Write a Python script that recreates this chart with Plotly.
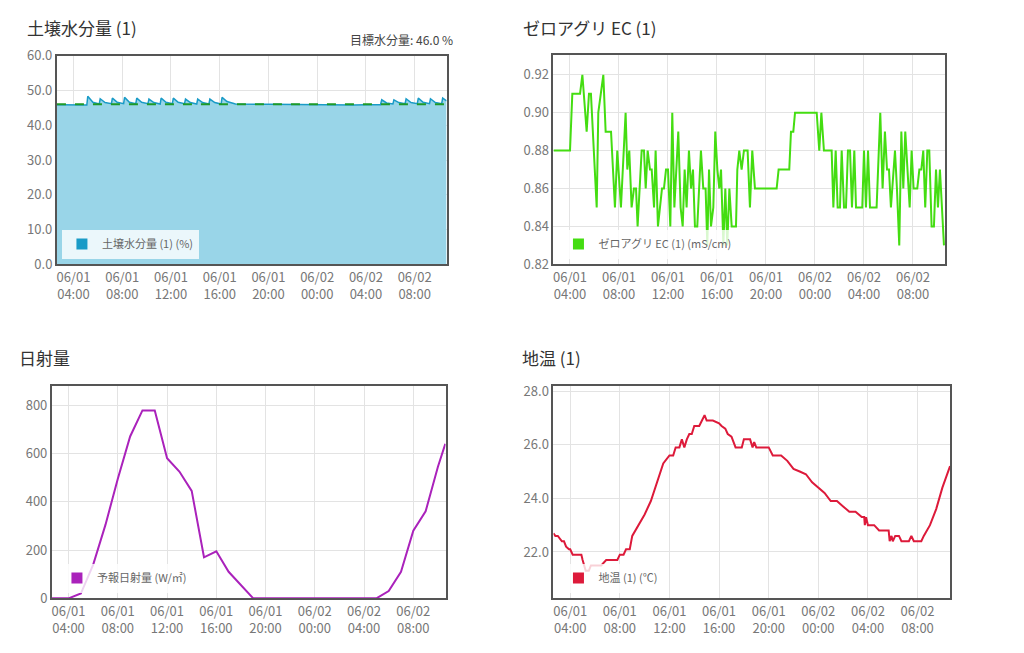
import plotly.graph_objects as go
from datetime import datetime, timedelta

BASE = datetime(2024, 6, 1, 0, 0)
def T(h): return BASE + timedelta(hours=h)

X_START, X_END = 2.65, 34.62
tick_hours = [4, 8, 12, 16, 20, 24, 28, 32]
tick_labels = ["06/01<br>04:00", "06/01<br>08:00", "06/01<br>12:00", "06/01<br>16:00",
               "06/01<br>20:00", "06/02<br>00:00", "06/02<br>04:00", "06/02<br>08:00"]

# Soil moisture (hours since 06/01 00:00, %)
sm_t = [2.65, 4.5, 5.1, 5.18, 5.6, 6.12, 6.2, 6.6, 7.12, 7.2, 7.6, 8.12, 8.2, 8.6, 9.12, 9.2, 9.6,
        10.12, 10.2, 10.6, 11.12, 11.2, 11.6, 12.12, 12.2, 12.6, 13.12, 13.2, 13.6, 14.12, 14.2, 14.6,
        15.12, 15.2, 15.6, 16.12, 16.2, 16.6, 17.3, 20, 22, 24, 26, 27, 28, 29.2, 29.3, 29.7, 30.22, 30.3,
        30.7, 31.22, 31.3, 31.7, 32.22, 32.3, 32.7, 33.22, 33.3, 33.7, 34.22, 34.3, 34.62]
sm_v = [45.9, 45.9, 45.8, 48.3, 46.6, 46.1, 47.6, 46.5, 46.2, 47.8, 46.6, 46.2, 48.0, 46.6, 46.2, 47.8, 46.6,
        46.2, 47.5, 46.5, 46.1, 47.8, 46.6, 46.2, 47.8, 46.6, 46.2, 47.5, 46.5, 46.1, 47.5, 46.5,
        46.1, 47.5, 46.5, 46.1, 48.0, 46.8, 46.1, 46.0, 45.9, 45.8, 45.7, 45.8, 45.9, 45.9, 47.3, 46.4, 46.1, 47.3,
        46.5, 46.2, 47.6, 46.5, 46.2, 47.8, 46.6, 46.2, 47.6, 46.5, 46.2, 47.8, 47.0]
target_moisture = 46.0

# EC (mS/cm)
ec_t = [2.65, 4.0, 4.19, 4.82, 5.01, 5.36, 5.55, 5.71, 6.18, 6.31, 6.72, 6.91, 7.35, 7.67, 7.86, 8.16, 8.54,
        8.68, 8.84, 9.03, 9.22, 9.39, 9.52, 9.85, 10.04, 10.18, 10.34, 10.53, 10.67, 10.86, 10.99, 11.18,
        11.51, 11.67, 11.84, 12.0, 12.19, 12.35, 12.52, 12.84, 13.03, 13.2, 13.36, 13.52, 13.71, 13.88, 14.04,
        14.2, 14.39, 14.69, 14.88, 15.07, 15.21, 15.35, 15.51, 15.7, 15.86, 16.03, 16.19, 16.33, 16.52, 16.68,
        16.84, 17.01, 17.2, 17.55, 17.66, 17.82, 18.01, 18.2, 18.5, 18.69, 18.88, 19.1, 20.87, 21.03, 21.9,
        22.04, 22.23, 22.37, 24.14, 24.35, 24.52, 24.73, 25.36, 25.5, 25.69, 25.85, 26.04, 26.18, 26.37, 26.53,
        26.69, 26.86, 27.02, 27.21, 27.35, 27.86, 28.0, 28.16, 28.33, 28.49, 29.03, 29.33, 29.52, 29.71, 29.88,
        30.04, 30.2, 30.53, 30.69, 30.88, 31.05, 31.21, 31.37, 31.56, 31.73, 31.89, 32.05, 32.35, 32.52, 32.68,
        32.84, 33.0, 33.17, 33.33, 33.52, 33.71, 33.88, 34.04, 34.2, 34.53]
ec_v = [.88, .88, .91, .91, .92, .89, .91, .91, .85, .90, .92, .89, .89, .85, .88, .85, .90,
        .87, .88, .85, .86, .86, .84, .88, .88, .86, .88, .87, .87, .85, .88, .84,
        .86, .86, .87, .87, .84, .90, .85, .89, .85, .84, .87, .85, .88, .86, .87,
        .84, .84, .88, .86, .86, .83, .87, .84, .85, .89, .87, .86, .87, .83, .86,
        .83, .86, .84, .84, .87, .88, .87, .88, .88, .85, .88, .86, .86, .87, .87,
        .89, .89, .90, .90, .88, .90, .88, .88, .85, .88, .85, .85, .88, .85, .85,
        .88, .88, .85, .88, .85, .85, .88, .85, .88, .85, .85, .90, .86, .89, .87,
        .87, .85, .88, .86, .83, .89, .86, .89, .87, .85, .88, .86, .86, .87, .87,
        .88, .85, .88, .88, .84, .84, .87, .85, .87, .83]

# Forecast solar radiation (W/m2)
sr_t = [2.6, 3, 4, 5, 6, 7, 8, 9, 10, 11, 12, 13, 14, 15, 16, 17, 18, 19, 20, 22, 24, 26, 28, 29, 30, 31, 32, 33, 34, 34.6]
sr_v = [0, 0, 0, 20, 140, 305, 495, 670, 778, 778, 580, 525, 445, 170, 195, 110, 55, 0, 0, 0, 0, 0, 0, 0, 30, 110, 280, 360, 545, 640]

# Soil temperature (°C)
st_t = [2.65, 2.8, 3.0, 3.33, 3.5, 3.67, 3.9, 4.0, 4.2, 4.33, 4.9, 5.0, 5.25, 5.5, 5.67, 6.0, 6.5, 6.9, 7.0, 7.8,
        8.0, 8.3, 8.5, 8.8, 9.0, 9.5, 10.0, 10.5, 11.0, 11.5, 12.0, 12.3, 12.5, 12.8, 13.0, 13.2, 13.4,
        13.6, 13.8, 14.0, 14.4, 14.6, 14.83, 15.0, 15.5, 16.0, 16.2, 16.5, 16.7, 17.0, 17.33, 17.83, 18.0,
        18.5, 18.7, 18.83, 19.0, 19.33, 20.0, 20.33, 21.0, 21.5, 22.0, 22.5, 23.0, 23.5, 24.0, 24.5, 25.0,
        25.5, 26.0, 26.5, 27.0, 27.5, 27.7, 27.75, 27.85, 28.0, 28.5, 28.9, 29.0, 29.67, 29.75, 29.9, 30.0,
        30.2, 30.5, 30.7, 31.3, 31.5, 31.7, 32.3, 32.5, 33.0, 33.5, 34.0, 34.62]
st_v = [22.7, 22.6, 22.6, 22.4, 22.4, 22.2, 22.1, 22.1, 21.9, 21.9, 21.9, 21.7, 21.3, 21.3, 21.5, 21.5, 21.5,
        21.7, 21.7, 21.7, 21.9, 21.9, 22.1, 22.1, 22.6, 23.0, 23.4, 23.9, 24.6, 25.3, 25.6, 25.6, 25.9, 25.9,
        26.2, 25.9, 26.2, 26.4, 26.4, 26.7, 26.7, 26.9, 27.1, 26.9, 26.9, 26.8, 26.7, 26.6, 26.4, 26.3, 25.9,
        25.9, 26.2, 26.2, 25.9, 26.1, 25.9, 25.9, 25.9, 25.6, 25.6, 25.4, 25.1, 25.0, 24.9, 24.6, 24.4, 24.2,
        23.9, 23.9, 23.7, 23.5, 23.5, 23.3, 23.3, 23.0, 23.3, 23.0, 23.0, 22.8, 22.8, 22.8, 22.4, 22.6, 22.4,
        22.6, 22.6, 22.4, 22.4, 22.6, 22.4, 22.4, 22.6, 23.0, 23.6, 24.4, 25.2]

W, H = 1024, 653
def dom(x0, x1, y0, y1):
    return [x0 / W, x1 / W], [1 - y1 / H, 1 - y0 / H]

panels = [
    dict(box=(56, 446, 47, 262), yr=[0, 60], dt=10, fmt=".1f"),
    dict(box=(553, 945, 46, 262), yr=[0.82, 0.9306], dt=0.02, fmt=".2f"),
    dict(box=(51, 445, 387, 606), yr=[0, 880], dt=200, fmt="d"),
    dict(box=(553, 950, 387, 606), yr=[20.27, 28.2], dt=2, fmt=".1f"),
]

fig = go.Figure()
layout = dict(width=W, height=H, margin=dict(l=0, r=0, t=0, b=0), paper_bgcolor="white",
              plot_bgcolor="white", font=dict(family="Noto Sans CJK JP, Noto Sans", color="#666", size=13),
              showlegend=True)
for i, p in enumerate(panels):
    n = "" if i == 0 else str(i + 1)
    xd, yd = dom(*p["box"])
    ax = dict(showline=True, mirror=True, linecolor="#555", linewidth=2, gridcolor="#e3e3e3",
              zeroline=False, ticks="", tickfont=dict(size=13, color="#777"))
    layout["xaxis" + n] = dict(ax, domain=xd, anchor="y" + n, type="date",
                               range=[T(X_START), T(X_END)], tickvals=[T(h) for h in tick_hours],
                               ticktext=tick_labels)
    layout["yaxis" + n] = dict(ax, domain=yd, anchor="x" + n, range=p["yr"], dtick=p["dt"],
                               tick0=0, tickformat=p["fmt"])
    x0, x1, y0, y1 = p["box"]
    layout["legend" + n] = dict(x=(x0 + 5) / W, y=1 - (y1 - 6) / H, xanchor="left", yanchor="bottom",
                                bgcolor="rgba(255,255,255,0.8)", font=dict(size=11, color="#666"),
                                itemwidth=30, tracegroupgap=0)
fig.update_layout(**layout)

def legend_marker(name, color, i):
    n = "" if i == 0 else str(i + 1)
    fig.add_trace(go.Scatter(x=[None], y=[None], mode="markers", name=name,
                             marker=dict(symbol="square", size=11, color=color),
                             xaxis="x" + n, yaxis="y" + n, legend="legend" + n))

sm_x = [T(h) for h in sm_t]
fig.add_trace(go.Scatter(x=sm_x, y=sm_v, mode="lines", fill="tozeroy", fillcolor="#99d5e8",
                         line=dict(color="#1a9bc7", width=1.5), showlegend=False, xaxis="x", yaxis="y"))
fig.add_trace(go.Scatter(x=[T(X_START), T(X_END)], y=[target_moisture, target_moisture], mode="lines",
                         line=dict(color="#1e9a28", width=2, dash="dash"), showlegend=False, xaxis="x", yaxis="y"))
legend_marker("土壌水分量 (1) (%)", "#1a9bc7", 0)

fig.add_trace(go.Scatter(x=[T(h) for h in ec_t], y=ec_v, mode="lines", line=dict(color="#44dd11", width=2),
                         showlegend=False, xaxis="x2", yaxis="y2"))
legend_marker("ゼロアグリ EC (1) (mS/cm)", "#44dd11", 1)

fig.add_trace(go.Scatter(x=[T(h) for h in sr_t], y=sr_v, mode="lines", line=dict(color="#aa22bb", width=2),
                         showlegend=False, xaxis="x3", yaxis="y3"))
legend_marker("予報日射量 (W/㎡)", "#aa22bb", 2)

fig.add_trace(go.Scatter(x=[T(h) for h in st_t], y=st_v, mode="lines", line=dict(color="#dd1a3a", width=2),
                         showlegend=False, xaxis="x4", yaxis="y4"))
legend_marker("地温 (1) (℃)", "#dd1a3a", 3)

titles = [("土壌水分量 (1)", 24, 18), ("ゼロアグリ EC (1)", 521, 18), ("日射量", 16, 358), ("地温 (1)", 520, 358)]
for txt, x, y in titles:
    fig.add_annotation(text=txt, x=x / W, y=1 - y / H, xref="paper", yref="paper", xanchor="left",
                       yanchor="middle", showarrow=False, font=dict(size=17, color="#333"))
fig.add_annotation(text="目標水分量: 46.0 %", x=454 / W, y=1 - 30 / H, xref="paper", yref="paper",
                   xanchor="right", yanchor="middle", showarrow=False, font=dict(size=12, color="#444"))

fig.write_html("out.html", config={"displayModeBar": False})
with open("out.html", encoding="utf-8") as f:
    html = f.read()
html = html.replace("<body>", '<body style="margin:0;padding:0;overflow:hidden">', 1)
with open("out.html", "w", encoding="utf-8") as f:
    f.write(html)
